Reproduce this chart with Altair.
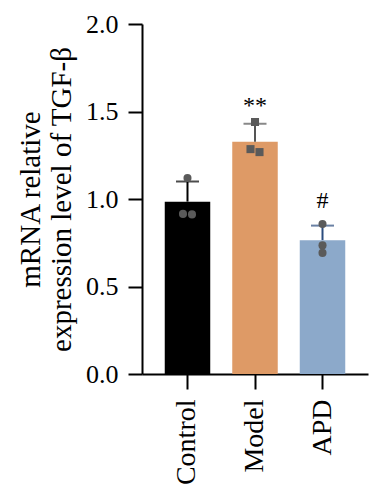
import altair as alt
import pandas as pd

groups = ["Control", "Model", "APD"]
means = [0.985, 1.327, 0.765]
upper = [1.10, 1.43, 0.848]
bar_colors = ["#000000", "#DE9A66", "#8CA9CA"]
err_colors = ["#000000", "#555555", "#2B4C7E"]
marks_sig = ["", "**", "#"]
sig_pos = [None, 1.53, 0.99]

pt_group = ["Control"] * 3 + ["Model"] * 3 + ["APD"] * 3
pt_value = [1.12, 0.915, 0.912, 1.44, 1.285, 1.268, 0.857, 0.735, 0.692]
pt_jitter = [0, -1, 1, 0, -1, 1, 0, 0, 0]
pt_shape = ["circle"] * 3 + ["square"] * 3 + ["circle"] * 3

bars = pd.DataFrame({"group": groups, "mean": means, "upper": upper,
                     "bc": bar_colors, "ec": err_colors, "sig": marks_sig, "sp": sig_pos})
pts = pd.DataFrame({"group": pt_group, "value": pt_value, "j": pt_jitter, "shape": pt_shape})

FONT = "Liberation Serif"

x = alt.X("group:N", sort=groups, title=None,
          scale=alt.Scale(paddingInner=0.326, paddingOuter=0.337),
          axis=alt.Axis(labelAngle=-90, labelFontSize=28, labelFont=FONT, labelColor="black",
                        labelPadding=10, tickSize=15, tickWidth=2, tickColor="black",
                        domainColor="black", domainWidth=2, labelBaseline="middle",
                        labelAlign="right"))
y = alt.Y("mean:Q", title=["mRNA relative", "expression level of TGF-β"],
          scale=alt.Scale(domain=[0, 2]),
          axis=alt.Axis(values=[0, 0.5, 1.0, 1.5, 2.0], format=".1f", grid=False,
                        labelFontSize=26, labelFont=FONT, labelColor="black", labelPadding=10,
                        tickSize=14, tickWidth=2, tickColor="black",
                        domainColor="black", domainWidth=2,
                        titleFont=FONT, titleFontSize=29, titleFontWeight="normal",
                        titleColor="black", titlePadding=9, titleLineHeight=31))

base = alt.Chart(bars)
xs = alt.X("group:N", sort=groups)
bar_layer = base.mark_bar().encode(x=x, y=y, color=alt.Color("bc:N", scale=None))
rule_layer = base.mark_rule(strokeWidth=2).encode(
    x=xs, y="mean:Q", y2="upper:Q", color=alt.Color("ec:N", scale=None))
cap_layer = base.mark_tick(size=23, thickness=2, orient="horizontal").encode(
    x=xs, y="upper:Q", color=alt.Color("ec:N", scale=None))
sig_layer = base.transform_filter(alt.datum.sig != "").mark_text(
    font=FONT, fontSize=24, baseline="middle", color="black").encode(
    x=xs, y="sp:Q", text="sig:N")

pt_layer = alt.Chart(pts).mark_point(filled=True, size=65, opacity=1, color="#5a5a5a").encode(
    x=xs,
    xOffset=alt.XOffset("j:Q", scale=alt.Scale(domain=[-1, 1], range=[18.25, 27.25])),
    y="value:Q",
    shape=alt.Shape("shape:N", scale=None))

chart = alt.layer(bar_layer, rule_layer, cap_layer, pt_layer, sig_layer).resolve_scale(
    xOffset="independent"
).properties(
    width=226, height=350, padding={"left": 8, "top": 3, "right": 5, "bottom": 5}
).configure_view(stroke=None)

chart.save("out.html", embed_options={"renderer": "svg", "actions": False})
